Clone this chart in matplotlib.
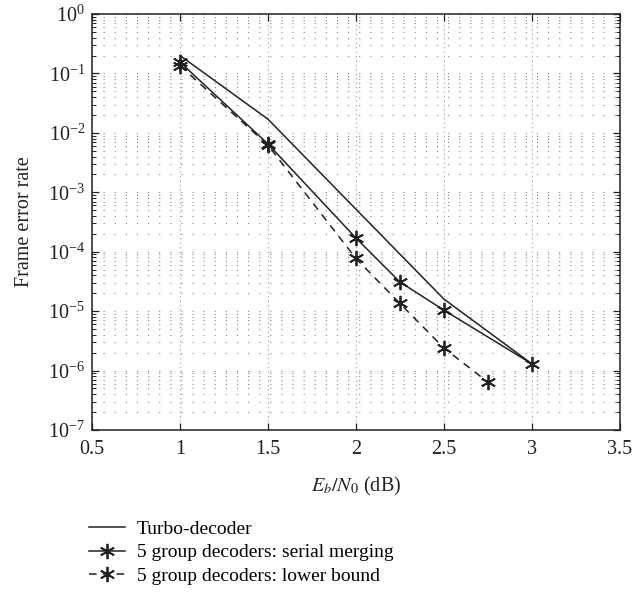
import matplotlib
matplotlib.use("Agg")
import matplotlib.pyplot as plt
import numpy as np
from matplotlib.ticker import LogLocator, NullFormatter

plt.rcParams['font.family'] = ['Liberation Serif', 'DejaVu Serif']
plt.rcParams['mathtext.fontset'] = 'stix'

turbo_x = [1.0, 1.5, 2.0, 2.5, 3.0]
turbo_y = [0.2, 0.017, 5.2e-4, 1.6e-5, 1.3e-6]

serial_x = [1.0, 1.5, 2.0, 2.25, 2.5, 3.0]
serial_y = [0.155, 0.0065, 1.7e-4, 3.1e-5, 1.04e-5, 1.3e-6]

lower_x = [1.0, 1.5, 2.0, 2.25, 2.5, 2.75]
lower_y = [0.135, 0.0062, 7.7e-5, 1.35e-5, 2.4e-6, 6.4e-7]

x_ticks = [0.5, 1, 1.5, 2, 2.5, 3, 3.5]
x_ticklabels = ['0.5', '1', '1.5', '2', '2.5', '3', '3.5']

labels = ['Turbo-decoder', '5 group decoders: serial merging', '5 group decoders: lower bound']

fig = plt.figure(figsize=(6.35, 5.96), dpi=100)
ax = fig.add_axes([0.145, 0.2785, 0.831, 0.698])

star = (6, 2, 0)
ax.plot(turbo_x, turbo_y, color='#222222', lw=1.1, label=labels[0])
ax.plot(serial_x, serial_y, color='#222222', lw=1.1, marker=star, ms=11, mew=1.3, label=labels[1])
ax.plot(lower_x, lower_y, color='#222222', lw=1.1, ls=(0, (5, 4)), marker=star, ms=11, mew=1.3, label=labels[2])

ax.set_yscale('log')
ax.set_xlim(0.5, 3.5)
ax.set_ylim(1e-7, 1)
ax.set_xticks(x_ticks)
ax.set_xticklabels(x_ticklabels)
ax.yaxis.set_major_locator(LogLocator(base=10, numticks=20))
ax.yaxis.set_minor_locator(LogLocator(base=10, subs=np.arange(2, 10), numticks=20))
ax.yaxis.set_minor_formatter(NullFormatter())

ax.tick_params(which='both', direction='in', top=True, right=True, labelsize=14.5, colors='#222222')
ax.tick_params(which='major', length=5, width=0.9, pad=7)
ax.tick_params(which='minor', length=3, width=0.7)
ax.tick_params(axis='y', which='major', pad=5)

ax.grid(True, which='both', axis='y', color='#888888', lw=0.8, ls=(0, (1, 9)))
ax.grid(True, which='major', axis='x', color='#999999', lw=0.8, ls=(0, (1, 3)))

for s in ax.spines.values():
    s.set_color('#222222')
    s.set_linewidth(1.1)

ax.set_xlabel(r'$E_b/N_0$ (dB)', fontsize=14.5, color='#222222', labelpad=12)
ax.set_ylabel('Frame error rate', fontsize=14.5, color='#222222', labelpad=10)

handles, labs = ax.get_legend_handles_labels()
fig.legend(handles, labs, loc='upper left', bbox_to_anchor=(0.1285, 0.14), frameon=False,
           fontsize=14, handlelength=1.85, labelspacing=0.3, handletextpad=0.6, borderaxespad=0)

fig.savefig('out.png', dpi=100)
